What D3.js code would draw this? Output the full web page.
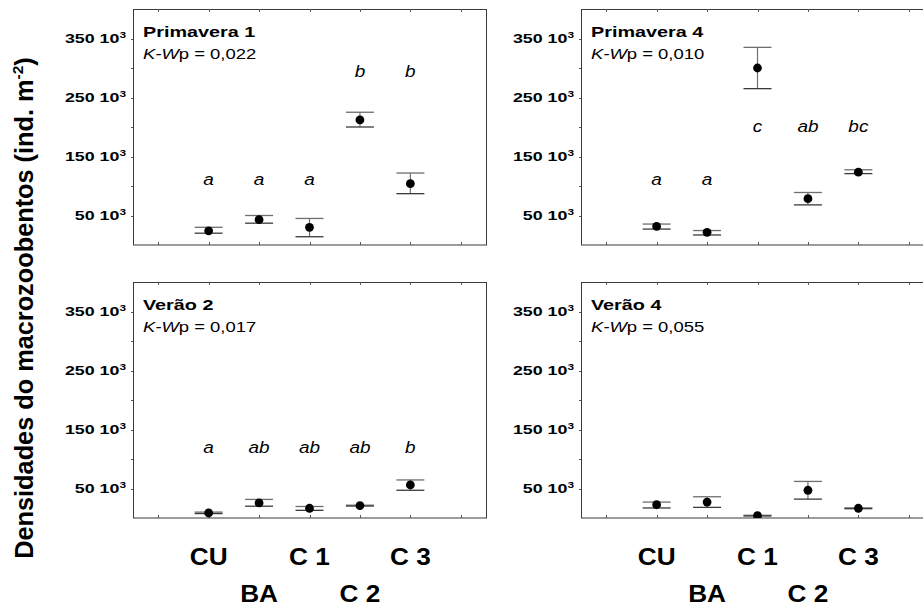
<!DOCTYPE html>
<html>
<head>
<meta charset="utf-8">
<script src="https://cdn.jsdelivr.net/npm/d3@7"></script>
<style>
  html, body { margin: 0; padding: 0; background: #fff; overflow: hidden; }
  svg { display: block; }
  text { font-family: "Liberation Sans", Arial, sans-serif; fill: #000; }
</style>
</head>
<body>
<div id="chart"></div>
<script>
// categories (sites) and y ticks
const categories = ["CU", "BA", "C 1", "C 2", "C 3"];
const yTicks = [50000, 100000, 150000, 200000, 250000, 300000, 350000];
const yTickLabels = [50000, 150000, 250000, 350000];

// panels
const panelTitles = ["Primavera 1", "Primavera 4", "Verão 2", "Verão 4"];
const panelPValues = ["0,022", "0,010", "0,017", "0,055"];

// means and error limits (ind. m-2)
const prim1Mean  = [24000, 43000, 30000, 212000, 104000];
const prim1Upper = [30000, 50000, 45000, 225000, 122000];
const prim1Lower = [20000, 37000, 14000, 200000, 87000];

const prim4Mean  = [31500, 21500, 300000, 78500, 123500];
const prim4Upper = [35500, 24500, 335000, 89000, 127500];
const prim4Lower = [27000, 17000, 265000, 68000, 121000];

const ver2Mean  = [8500, 25500, 16500, 21000, 56000];
const ver2Upper = [10000, 31500, 19500, 21700, 64500];
const ver2Lower = [7500, 20000, 13000, 20300, 47000];

const ver4Mean  = [22500, 27000, 4000, 47000, 16500];
const ver4Upper = [27000, 36000, 4600, 62000, 17200];
const ver4Lower = [17000, 18000, 3400, 32000, 15800];

// Kruskal-Wallis group letters and the height where they sit
const prim1Letters = ["a", "a", "a", "b", "b"];
const prim1LetterY = [101000, 101000, 101000, 284000, 284000];
const prim4Letters = ["a", "a", "c", "ab", "bc"];
const prim4LetterY = [101000, 101000, 191500, 191500, 191500];
const ver2Letters = ["a", "ab", "ab", "ab", "b"];
const ver2LetterY = [110000, 110000, 110000, 110000, 110000];

const panels = [
    { title: panelTitles[0], p: panelPValues[0], mean: prim1Mean, upper: prim1Upper, lower: prim1Lower, letters: prim1Letters, letterY: prim1LetterY, left: 133, top: 9, xLabels: false },
    { title: panelTitles[1], p: panelPValues[1], mean: prim4Mean, upper: prim4Upper, lower: prim4Lower, letters: prim4Letters, letterY: prim4LetterY, left: 581, top: 9, xLabels: false },
    { title: panelTitles[2], p: panelPValues[2], mean: ver2Mean, upper: ver2Upper, lower: ver2Lower, letters: ver2Letters, letterY: ver2LetterY, left: 133, top: 282, xLabels: true },
    { title: panelTitles[3], p: panelPValues[3], mean: ver4Mean, upper: ver4Upper, lower: ver4Lower, letters: [], letterY: [], left: 581, top: 282, xLabels: true }
];

const W = 923, H = 608;
const pw = 353, ph = 236;

const svg = d3.select("#chart")
    .append("svg")
    .attr("width", W)
    .attr("height", H);

// 7 slots, categories sit in the middle five
const slots = ["_l", ...categories, "_r"];
const x = d3.scalePoint().domain(slots).range([0, pw]).padding(0.5);
const y = d3.scaleLinear().domain([0, 400000]).range([ph, 0]);

function stretched(g, tx, ty, sx, str) {
    return g.append("text")
        .attr("transform", `translate(${tx},${ty}) scale(${sx},1)`)
        .text(str);
}

panels.forEach((p, i) => {
    const g = svg.append("g").attr("transform", `translate(${p.left},${p.top})`);

    g.append("clipPath").attr("id", "clip" + i)
        .append("rect").attr("width", pw).attr("height", ph);

    // frame
    g.append("rect")
        .attr("x", 0.5).attr("y", 0.5)
        .attr("width", pw).attr("height", ph - 0.5)
        .attr("fill", "none")
        .attr("stroke", "#3a3a3a")
        .attr("stroke-width", 1);

    // x ticks, top and bottom, inward
    g.selectAll(".xtb").data(slots).enter().append("line")
        .attr("x1", d => Math.round(x(d)) + 0.5).attr("x2", d => Math.round(x(d)) + 0.5)
        .attr("y1", ph).attr("y2", ph - 3)
        .attr("stroke", "#555");
    g.selectAll(".xtt").data(slots).enter().append("line")
        .attr("x1", d => Math.round(x(d)) + 0.5).attr("x2", d => Math.round(x(d)) + 0.5)
        .attr("y1", 0).attr("y2", 3)
        .attr("stroke", "#555");

    // y ticks, outward
    g.selectAll(".yt").data(yTicks).enter().append("line")
        .attr("x1", -2).attr("x2", 0)
        .attr("y1", d => Math.round(y(d)) + 0.5).attr("y2", d => Math.round(y(d)) + 0.5)
        .attr("stroke", "#555");

    // y tick labels
    yTickLabels.forEach(v => {
        const t = stretched(g, -7, y(v) + 4.8, 1.32, `${v / 1000} 10`)
            .attr("text-anchor", "end")
            .style("font-size", "13.5px")
            .style("font-weight", "bold");
        t.append("tspan").attr("dy", -5).style("font-size", "9px").text("3");
    });

    // title and K-W p
    stretched(g, 10, 28, 1.32, p.title)
        .style("font-size", "15px")
        .style("font-weight", "bold");
    const kw = stretched(g, 10, 50, 1.23, "")
        .style("font-size", "15px");
    kw.append("tspan").style("font-style", "italic").text("K-W");
    kw.append("tspan").text("p = " + p.p);

    // error bars and means
    const plot = g.append("g").attr("clip-path", `url(#clip${i})`);
    const rows = categories.map((c, k) => ({ c, m: p.mean[k], hi: p.upper[k], lo: p.lower[k] }));

    plot.selectAll(".stem").data(rows).enter().append("line")
        .attr("x1", d => x(d.c)).attr("x2", d => x(d.c))
        .attr("y1", d => y(d.hi)).attr("y2", d => y(d.lo))
        .attr("stroke", "#6e6e6e").attr("stroke-width", 1.2);
    plot.selectAll(".capHi").data(rows).enter().append("line")
        .attr("x1", d => x(d.c) - 14).attr("x2", d => x(d.c) + 14)
        .attr("y1", d => y(d.hi)).attr("y2", d => y(d.hi))
        .attr("stroke", "#6e6e6e").attr("stroke-width", 1.3);
    plot.selectAll(".capLo").data(rows).enter().append("line")
        .attr("x1", d => x(d.c) - 14).attr("x2", d => x(d.c) + 14)
        .attr("y1", d => y(d.lo)).attr("y2", d => y(d.lo))
        .attr("stroke", "#3a3a3a").attr("stroke-width", 1.3);
    plot.selectAll(".dot").data(rows).enter().append("circle")
        .attr("cx", d => x(d.c)).attr("cy", d => y(d.m))
        .attr("r", 4.4)
        .attr("fill", "#000");

    // group letters
    p.letters.forEach((l, k) => {
        stretched(g, x(categories[k]), y(p.letterY[k]), 1.15, l)
            .attr("text-anchor", "middle")
            .style("font-size", "16.5px")
            .style("font-style", "italic");
    });

    // x category labels, staggered on two rows
    if (p.xLabels) {
        categories.forEach((c, k) => {
            stretched(g, x(c), ph + (k % 2 === 0 ? 47 : 84), 1.07, c)
                .attr("text-anchor", "middle")
                .style("font-size", "24.5px")
                .style("font-weight", "bold");
        });
    }
});

// y axis title
const yl = svg.append("text")
    .attr("transform", "translate(33,308) rotate(-90)")
    .attr("text-anchor", "middle")
    .style("font-size", "25.3px")
    .style("font-weight", "bold");
yl.append("tspan").text("Densidades do macrozoobentos (ind. m");
yl.append("tspan").attr("dy", -10).style("font-size", "15.5px").text("-2");
yl.append("tspan").attr("dy", 10).text(")");
</script>
</body>
</html>
